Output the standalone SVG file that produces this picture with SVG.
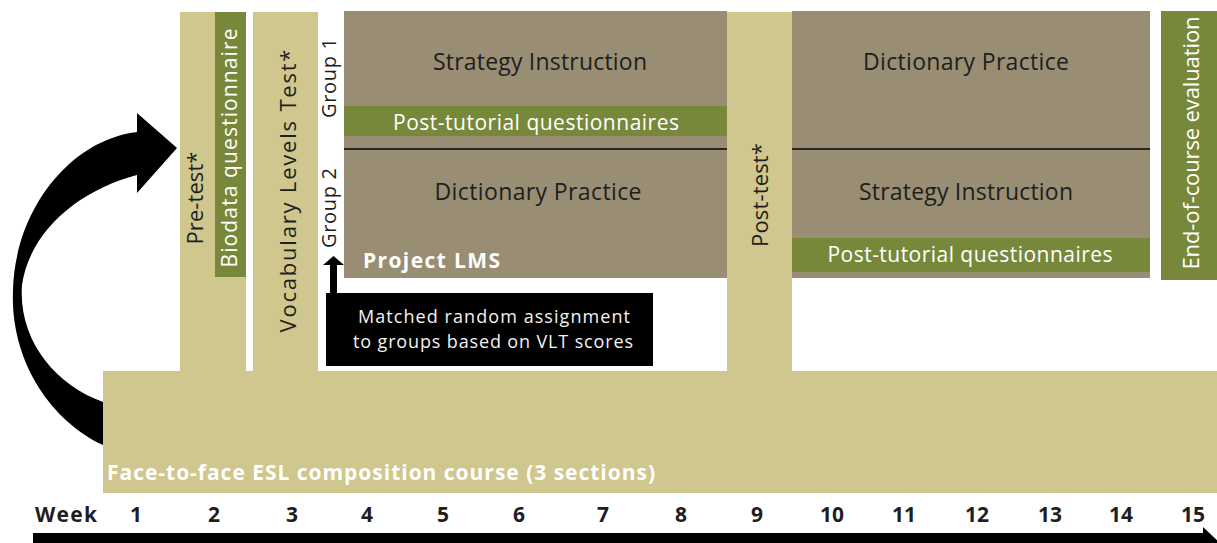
<svg xmlns="http://www.w3.org/2000/svg" width="1217" height="543" viewBox="0 0 1217 543">
<style>
.tan{fill:#CFC78D}
.lms{fill:#998E73}
.grn{fill:#77883B}
.t{font-family:"Open Sans","Liberation Sans",sans-serif}
.dk{fill:#1E1E1E}
.wh{fill:#FFFFFF}
.b{font-weight:bold}
.mid{text-anchor:middle}
</style>
<rect x="0" y="0" width="1217" height="543" fill="#FFFFFF"/>
<g id="connectors">
  <path id="curved-arrow" d="M103,445 C50,420 10,360 13,290 C15,210 70,140 137,132 L137,113 L177,148 L137,193 L137,175 C80,190 30,230 22,285 C18,340 55,385 103,402 Z" fill="#000"/>
</g>
<g id="course">
  <rect class="tan" x="103" y="371" width="1114" height="122"/>
  <text class="t b wh" x="107" y="480" font-size="21" textLength="548">Face-to-face ESL composition course (3 sections)</text>
</g>
<g id="pretest">
  <rect class="tan" x="180" y="12" width="66" height="360"/>
  <text class="t dk mid" font-size="22" textLength="93" transform="translate(203,198) rotate(-90)">Pre-test*</text>
</g>
<g id="biodata">
  <rect class="grn" x="215" y="12" width="31" height="265"/>
  <text class="t wh mid" font-size="21" textLength="239" transform="translate(237,148) rotate(-90)">Biodata questionnaire</text>
</g>
<g id="vlt">
  <rect class="tan" x="253" y="12" width="65" height="360"/>
  <text class="t dk mid" font-size="22" textLength="283" transform="translate(296,191) rotate(-90)">Vocabulary Levels Test*</text>
</g>
<g id="group-labels">
  <text class="t dk mid" font-size="20" textLength="80" transform="translate(336,78) rotate(-90)">Group 1</text>
  <text class="t dk mid" font-size="20" textLength="80" transform="translate(336,208) rotate(-90)">Group 2</text>
</g>
<g id="lms-a">
  <rect class="lms" x="344" y="11" width="383" height="267"/>
  <line x1="344" y1="149" x2="727" y2="149" stroke="#2A2522" stroke-width="2"/>
  <text class="t dk mid" x="540" y="70" font-size="23" textLength="214">Strategy Instruction</text>
  <rect class="grn" x="344" y="106" width="383" height="30"/>
  <text class="t wh mid" x="536" y="130" font-size="21" textLength="286">Post-tutorial questionnaires</text>
  <text class="t dk mid" x="538" y="200" font-size="23" textLength="207">Dictionary Practice</text>
  <text class="t b wh" x="363" y="268" font-size="21" textLength="137">Project LMS</text>
</g>
<g id="posttest">
  <rect class="tan" x="727" y="12" width="65" height="360"/>
  <text class="t dk mid" font-size="22" textLength="104" transform="translate(768,195) rotate(-90)">Post-test*</text>
</g>
<g id="lms-b">
  <rect class="lms" x="792" y="11" width="358" height="267"/>
  <line x1="792" y1="149" x2="1150" y2="149" stroke="#2A2522" stroke-width="2"/>
  <text class="t dk mid" x="966" y="70" font-size="23" textLength="206">Dictionary Practice</text>
  <text class="t dk mid" x="966" y="200" font-size="23" textLength="214">Strategy Instruction</text>
  <rect class="grn" x="792" y="238" width="358" height="34"/>
  <text class="t wh mid" x="970" y="262" font-size="21" textLength="285">Post-tutorial questionnaires</text>
</g>
<g id="evaluation">
  <rect class="grn" x="1161" y="11" width="56" height="269"/>
  <text class="t wh mid" font-size="22" textLength="253" transform="translate(1199,143) rotate(-90)">End-of-course evaluation</text>
</g>
<g id="assignment">
  <rect x="326" y="293" width="327" height="73" fill="#000"/>
  <text class="t mid" x="494" y="323" font-size="18" fill="#F2F2F2" textLength="272">Matched random assignment</text>
  <text class="t mid" x="493" y="348" font-size="18" fill="#F2F2F2" textLength="280">to groups based on VLT scores</text>
</g>
<g id="connectors-2">
  <rect x="330" y="262" width="7" height="34" fill="#000"/>
  <polygon points="333.5,256 323,265 344,265" fill="#000"/>
</g>
<g id="timeline">
  <text class="t b dk" x="35" y="522" font-size="21" textLength="62">Week</text>
  <g class="t b dk mid" font-size="21">
    <text x="136" y="522">1</text>
    <text x="214" y="522">2</text>
    <text x="292" y="522">3</text>
    <text x="367" y="522">4</text>
    <text x="443" y="522">5</text>
    <text x="519" y="522">6</text>
    <text x="603" y="522">7</text>
    <text x="681" y="522">8</text>
    <text x="757" y="522">9</text>
    <text x="832" y="522">10</text>
    <text x="904" y="522">11</text>
    <text x="977" y="522">12</text>
    <text x="1050" y="522">13</text>
    <text x="1121" y="522">14</text>
    <text x="1193" y="522">15</text>
  </g>
  <rect x="33" y="533" width="1172" height="14" fill="#000"/>
  <polygon points="1203,527 1222,545 1203,563" fill="#000"/>
</g>
</svg>
